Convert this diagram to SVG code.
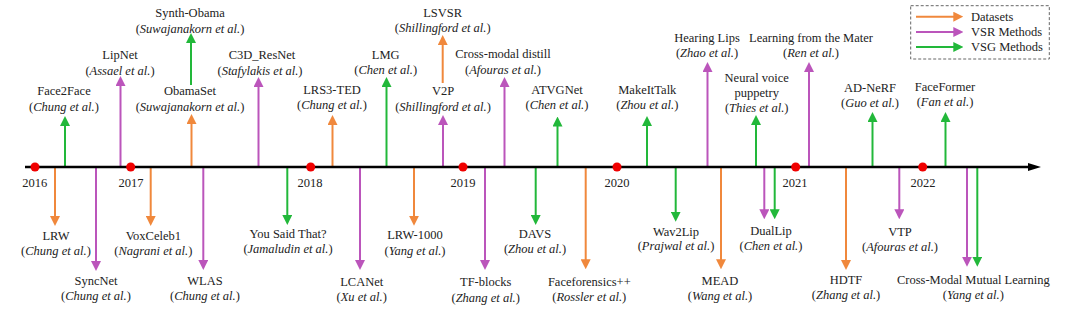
<svg xmlns="http://www.w3.org/2000/svg" width="1080" height="315" viewBox="0 0 1080 315" font-family="'Liberation Serif', 'DejaVu Serif', serif">
<style>
text{font-family:'Liberation Serif','DejaVu Serif',serif;font-size:12.5px;fill:#222;text-anchor:middle}
.i{font-style:italic}
.leg text{text-anchor:start}
line.c{stroke-width:2;fill:none}
.o{stroke:#F0883C}
.p{stroke:#BB55BB}
.g{stroke:#22B83A}
.mo{marker-end:url(#ao)}
.mp{marker-end:url(#ap)}
.mg{marker-end:url(#ag)}
.dot{fill:#F00000}
</style>
<defs>
<marker id="ao" markerUnits="userSpaceOnUse" markerWidth="10" markerHeight="10" refX="5" refY="5" orient="auto" viewBox="0 0 10 10"><path d="M0,0 L10,5 L0,10 z" fill="#F0883C"/></marker>
<marker id="ap" markerUnits="userSpaceOnUse" markerWidth="10" markerHeight="10" refX="5" refY="5" orient="auto" viewBox="0 0 10 10"><path d="M0,0 L10,5 L0,10 z" fill="#BB55BB"/></marker>
<marker id="ag" markerUnits="userSpaceOnUse" markerWidth="10" markerHeight="10" refX="5" refY="5" orient="auto" viewBox="0 0 10 10"><path d="M0,0 L10,5 L0,10 z" fill="#22B83A"/></marker>
</defs>
<rect width="1080" height="315" fill="#fff"/>
<g id="connectors">
<line class="c g mg" x1="65" y1="167" x2="65" y2="121"/>
<line class="c p mp" x1="120.5" y1="167" x2="120.5" y2="81"/>
<line class="c g mg" x1="191" y1="85" x2="191" y2="38"/>
<line class="c o mo" x1="191.5" y1="167" x2="191.5" y2="119"/>
<line class="c p mp" x1="258.5" y1="167" x2="258.5" y2="82"/>
<line class="c o mo" x1="332.5" y1="167" x2="332.5" y2="120"/>
<line class="c g mg" x1="386.5" y1="167" x2="386.5" y2="82"/>
<line class="c o mo" x1="442.7" y1="83" x2="442.7" y2="40"/>
<line class="c p mp" x1="443" y1="167" x2="443" y2="120"/>
<line class="c p mp" x1="504.5" y1="167" x2="504.5" y2="82"/>
<line class="c g mg" x1="557.5" y1="167" x2="557.5" y2="121.5"/>
<line class="c g mg" x1="647" y1="167" x2="647" y2="121"/>
<line class="c p mp" x1="707.5" y1="167" x2="707.5" y2="67"/>
<line class="c g mg" x1="756" y1="167" x2="756" y2="120"/>
<line class="c p mp" x1="809" y1="167" x2="809" y2="67"/>
<line class="c g mg" x1="872.5" y1="167" x2="872.5" y2="117"/>
<line class="c g mg" x1="945.5" y1="167" x2="945.5" y2="117"/>
<line class="c o mo" x1="55" y1="167" x2="55" y2="221"/>
<line class="c p mp" x1="96" y1="167" x2="96" y2="266"/>
<line class="c o mo" x1="150.7" y1="167" x2="150.7" y2="221"/>
<line class="c p mp" x1="203.3" y1="167" x2="203.3" y2="265"/>
<line class="c g mg" x1="287.3" y1="167" x2="287.3" y2="220"/>
<line class="c p mp" x1="360" y1="167" x2="360" y2="265"/>
<line class="c o mo" x1="414" y1="167" x2="414" y2="220.7"/>
<line class="c p mp" x1="485" y1="167" x2="485" y2="265"/>
<line class="c g mg" x1="535.7" y1="167" x2="535.7" y2="220"/>
<line class="c o mo" x1="585.7" y1="167" x2="585.7" y2="264.3"/>
<line class="c g mg" x1="675.7" y1="167" x2="675.7" y2="216.7"/>
<line class="c o mo" x1="721" y1="167" x2="721" y2="264.3"/>
<line class="c p mp" x1="764.3" y1="167" x2="764.3" y2="214.3"/>
<line class="c g mg" x1="774.7" y1="167" x2="774.7" y2="214.3"/>
<line class="c o mo" x1="846" y1="167" x2="846" y2="265"/>
<line class="c p mp" x1="899.3" y1="167" x2="899.3" y2="214.3"/>
<line class="c p mp" x1="967" y1="167" x2="967" y2="261.7"/>
<line class="c g mg" x1="977.3" y1="167" x2="977.3" y2="261.7"/>
</g>
<g id="timeline">
<line x1="25" y1="167" x2="1030" y2="167" stroke="#000" stroke-width="2.6"/>
<polygon points="1028,163 1041,167 1028,171" fill="#000"/>
<circle class="dot" cx="35" cy="167" r="4.5"/>
<circle class="dot" cx="130.7" cy="167" r="4.5"/>
<circle class="dot" cx="310.7" cy="167" r="4.5"/>
<circle class="dot" cx="463" cy="167" r="4.5"/>
<circle class="dot" cx="617" cy="167" r="4.5"/>
<circle class="dot" cx="795.7" cy="167" r="4.5"/>
<circle class="dot" cx="922.7" cy="167" r="4.5"/>
<text x="34.7" y="186.5">2016</text>
<text x="131" y="186.5">2017</text>
<text x="310" y="186.5">2018</text>
<text x="463" y="186.5">2019</text>
<text x="617" y="186.5">2020</text>
<text x="795" y="186.5">2021</text>
<text x="923" y="186.5">2022</text>
</g>
<g id="face2face"><text x="64" y="95">Face2Face</text><text x="64" y="111">(<tspan class="i">Chung et al.</tspan>)</text></g>
<g id="lipnet"><text x="120" y="58.5">LipNet</text><text x="120" y="74.5">(<tspan class="i">Assael et al.</tspan>)</text></g>
<g id="synth-obama"><text x="190" y="17">Synth-Obama</text><text x="190" y="32.7">(<tspan class="i">Suwajanakorn et al.</tspan>)</text></g>
<g id="obamaset"><text x="190" y="95">ObamaSet</text><text x="190" y="111">(<tspan class="i">Suwajanakorn et al.</tspan>)</text></g>
<g id="c3d-resnet"><text x="262" y="58.5">C3D_ResNet</text><text x="260" y="74.5">(<tspan class="i">Stafylakis et al.</tspan>)</text></g>
<g id="lrs3-ted"><text x="332" y="93.7">LRS3-TED</text><text x="332" y="108.7">(<tspan class="i">Chung et al.</tspan>)</text></g>
<g id="lmg"><text x="385.7" y="58.5">LMG</text><text x="385.7" y="74">(<tspan class="i">Chen et al.</tspan>)</text></g>
<g id="lsvsr"><text x="442.7" y="16.7">LSVSR</text><text x="442.7" y="32">(<tspan class="i">Shillingford et al.</tspan>)</text></g>
<g id="v2p"><text x="443" y="94.5">V2P</text><text x="443" y="110.5">(<tspan class="i">Shillingford et al.</tspan>)</text></g>
<g id="cross-modal-distill"><text x="503" y="57.7">Cross-modal distill</text><text x="503" y="73.5">(<tspan class="i">Afouras et al.</tspan>)</text></g>
<g id="atvgnet"><text x="557" y="93.5">ATVGNet</text><text x="557" y="108.7">(<tspan class="i">Chen et al.</tspan>)</text></g>
<g id="makeittalk"><text x="647.3" y="93.5">MakeItTalk</text><text x="647.3" y="108.7">(<tspan class="i">Zhou et al.</tspan>)</text></g>
<g id="hearing-lips"><text x="707" y="41.7">Hearing Lips</text><text x="707" y="57">(<tspan class="i">Zhao et al.</tspan>)</text></g>
<g id="neural-voice-puppetry"><text x="756.7" y="81.7">Neural voice</text><text x="756.7" y="97">puppetry</text><text x="756.7" y="112">(<tspan class="i">Thies et al.</tspan>)</text></g>
<g id="learning-from-the-mater"><text x="811" y="41.7">Learning from the Mater</text><text x="811" y="57">(<tspan class="i">Ren et al.</tspan>)</text></g>
<g id="ad-nerf"><text x="870" y="91.7">AD-NeRF</text><text x="870" y="106.7">(<tspan class="i">Guo et al.</tspan>)</text></g>
<g id="faceformer"><text x="945" y="90.5">FaceFormer</text><text x="945" y="105.5">(<tspan class="i">Fan et al.</tspan>)</text></g>
<g id="lrw"><text x="56" y="239.5">LRW</text><text x="56" y="254.5">(<tspan class="i">Chung et al.</tspan>)</text></g>
<g id="syncnet"><text x="96" y="284.5">SyncNet</text><text x="96" y="299.5">(<tspan class="i">Chung et al.</tspan>)</text></g>
<g id="voxceleb1"><text x="153.3" y="239.5">VoxCeleb1</text><text x="153.3" y="254.5">(<tspan class="i">Nagrani et al.</tspan>)</text></g>
<g id="wlas"><text x="205" y="284.5">WLAS</text><text x="205" y="299.5">(<tspan class="i">Chung et al.</tspan>)</text></g>
<g id="you-said-that"><text x="288" y="237.7">You Said That?</text><text x="288" y="252.7">(<tspan class="i">Jamaludin et al.</tspan>)</text></g>
<g id="lcanet"><text x="361.7" y="285.5">LCANet</text><text x="361.7" y="300.5">(<tspan class="i">Xu et al.</tspan>)</text></g>
<g id="lrw-1000"><text x="415" y="238.5">LRW-1000</text><text x="415" y="254.5">(<tspan class="i">Yang et al.</tspan>)</text></g>
<g id="tf-blocks"><text x="485.7" y="286">TF-blocks</text><text x="485.7" y="301.7">(<tspan class="i">Zhang et al.</tspan>)</text></g>
<g id="davs"><text x="535" y="237.5">DAVS</text><text x="535" y="252.5">(<tspan class="i">Zhou et al.</tspan>)</text></g>
<g id="faceforensics"><text x="589.3" y="285.5">Faceforensics++</text><text x="589.3" y="300.5">(<tspan class="i">Rossler et al.</tspan>)</text></g>
<g id="wav2lip"><text x="676" y="235.5">Wav2Lip</text><text x="676" y="250">(<tspan class="i">Prajwal et al.</tspan>)</text></g>
<g id="mead"><text x="720" y="285">MEAD</text><text x="720" y="300">(<tspan class="i">Wang et al.</tspan>)</text></g>
<g id="duallip"><text x="771" y="234.5">DualLip</text><text x="771" y="249.5">(<tspan class="i">Chen et al.</tspan>)</text></g>
<g id="hdtf"><text x="846" y="283.5">HDTF</text><text x="846" y="298.7">(<tspan class="i">Zhang et al.</tspan>)</text></g>
<g id="vtp"><text x="900" y="235.5">VTP</text><text x="900" y="251">(<tspan class="i">Afouras et al.</tspan>)</text></g>
<g id="cross-modal-mutual-learning"><text x="973.3" y="283.5">Cross-Modal Mutual Learning</text><text x="973.3" y="298.7">(<tspan class="i">Yang et al.</tspan>)</text></g>
<g id="legend" class="leg">
<rect x="910.7" y="5.7" width="138.6" height="53.3" fill="none" stroke="#666" stroke-width="1" stroke-dasharray="3,2"/>
<line class="c o mo" x1="916" y1="16.7" x2="958.3" y2="16.7"/>
<line class="c p mp" x1="916" y1="32" x2="958.3" y2="32"/>
<line class="c g mg" x1="916" y1="47" x2="958.3" y2="47"/>
<text x="971" y="21">Datasets</text>
<text x="971" y="36.4">VSR Methods</text>
<text x="971" y="51.4">VSG Methods</text>
</g>
</svg>
